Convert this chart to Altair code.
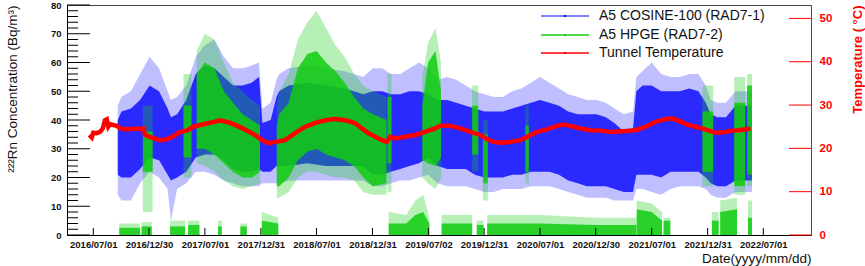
import altair as alt
import pandas as pd

FONT = "Liberation Sans"
BLUE = "#0000ff"
GREEN = "#11cc11"
RED = "#ff0000"

# ---------------- data ----------------
TICK_DATES = ["2016-07-01", "2016-12-30", "2017-07-01", "2017-12-31", "2018-07-01",
              "2018-12-31", "2019-07-02", "2019-12-31", "2020-07-01", "2020-12-30",
              "2021-07-01", "2021-12-31", "2022-07-01"]
X_RANGE = ["2016-04-06", "2022-12-04"]
LEFT_MAJOR = [0, 10, 20, 30, 40, 50, 60, 70, 80]
LEFT_MINOR = [2, 4, 6, 8, 12, 14, 16, 18, 22, 24, 26, 28, 32, 34, 36, 38,
              42, 44, 46, 48, 52, 54, 56, 58, 62, 64, 66, 68, 72, 74, 76, 78]
RIGHT_TICKS = [0, 10, 20, 30, 40, 50]

# A5 COSINE-100 (RAD7-1): envelope of the blue cloud (Bq/m3)
BLUE_DATES = ["2016-09-19", "2016-10-01", "2016-11-01", "2016-12-01", "2017-01-01", "2017-02-01", "2017-03-01", "2017-03-12", "2017-04-01", "2017-05-01",
              "2017-06-01", "2017-07-01", "2017-08-01", "2017-09-01", "2017-10-01", "2017-11-01", "2017-12-01", "2017-12-25", "2018-01-05", "2018-02-01",
              "2018-02-20", "2018-03-01", "2018-04-01", "2018-06-01", "2018-08-01", "2018-10-01", "2018-12-01", "2019-01-01", "2019-02-01", "2019-03-01",
              "2019-04-01", "2019-05-01", "2019-06-01", "2019-07-01", "2019-08-01", "2019-09-01", "2019-10-01", "2019-11-01", "2019-12-01", "2020-01-01",
              "2020-02-01", "2020-03-01", "2020-04-01", "2020-05-01", "2020-06-01", "2020-07-01", "2020-08-01", "2020-09-01", "2020-10-01", "2020-11-01",
              "2020-12-01", "2021-01-01", "2021-02-01", "2021-03-01", "2021-04-01", "2021-05-01", "2021-05-12", "2021-06-01", "2021-07-01", "2021-08-01",
              "2021-09-01", "2021-10-01", "2021-11-01", "2021-12-01", "2021-12-25", "2022-01-10", "2022-02-01", "2022-03-01", "2022-04-01", "2022-05-01",
              "2022-05-25"]
BLUE_LO_OUT = [14, 12, 12, 18, 22, 20, 16, 5, 16, 18,
               22, 22, 21, 19, 18, 17, 17, 17, 18, 18,
               18, 18, 19, 19, 19, 19, 19, 17, 17, 18,
               19, 19, 20, 21, 18, 17, 17, 17, 16, 15,
               15, 16, 16, 16, 17, 17, 17, 16, 15, 14,
               13, 13, 13, 12, 12, 12, 16, 16, 15, 14,
               16, 17, 17, 17, 16, 14, 13, 13, 15, 15,
               15]
BLUE_LO = [21, 20, 20, 23, 27, 26, 21, 19, 20, 22,
           27, 28, 28, 26, 23, 22, 22, 23, 22, 22,
           24, 24, 24, 25, 24, 24, 24, 21, 21, 22,
           23, 24, 25, 27, 24, 23, 23, 23, 21, 20,
           20, 20, 21, 21, 22, 22, 22, 21, 19, 18,
           17, 17, 17, 16, 15, 15, 21, 21, 21, 20,
           22, 22, 22, 22, 20, 18, 17, 17, 19, 19,
           19]
BLUE_HI = [40, 43, 44, 47, 52, 50, 44, 41, 42, 47,
           56, 59, 58, 55, 52, 52, 53, 55, 39, 40,
           48, 50, 52, 53, 52, 51, 49, 50, 50, 49,
           49, 50, 50, 49, 47, 47, 46, 45, 44, 43,
           43, 43, 44, 45, 46, 47, 46, 45, 43, 42,
           42, 42, 41, 39, 36, 37, 50, 52, 52, 50,
           50, 50, 51, 50, 46, 42, 41, 41, 45, 45,
           45]
BLUE_HI_OUT = [45, 48, 50, 56, 62, 58, 50, 47, 48, 52,
               62, 66, 68, 62, 58, 58, 59, 60, 44, 46,
               54, 56, 58, 59, 58, 57, 55, 58, 58, 56,
               56, 58, 60, 58, 54, 55, 54, 52, 50, 49,
               48, 48, 50, 51, 53, 55, 53, 51, 49, 48,
               47, 47, 46, 44, 42, 43, 55, 57, 60, 56,
               55, 55, 56, 56, 52, 47, 46, 46, 50, 50,
               50]

# A5 HPGE (RAD7-2): main green cloud, by measurement period
GREEN_SEG = ["A", "A", "B1", "B1",
             "B2", "B2", "B2", "B2", "B2", "B2", "B2", "B2",
             "C", "C", "C", "C", "C", "C", "C", "C", "C", "C", "C", "C", "C",
             "D", "D", "E", "E", "E", "E", "F", "F", "G", "G", "H", "H",
             "I", "I", "J", "J", "K", "K"]
GREEN_DATES = ["2016-12-10", "2017-01-11", "2017-04-22", "2017-05-18",
               "2017-06-04", "2017-07-01", "2017-08-01", "2017-09-01", "2017-10-01", "2017-11-01", "2017-12-01", "2017-12-28",
               "2018-02-21", "2018-03-01", "2018-04-01", "2018-05-01", "2018-06-01", "2018-07-01", "2018-08-01", "2018-09-01",
               "2018-10-01", "2018-11-01", "2018-12-01", "2019-01-01", "2019-02-15",
               "2019-02-18", "2019-03-03", "2019-06-12", "2019-07-01", "2019-07-25", "2019-08-12",
               "2019-11-22", "2019-12-12", "2019-12-27", "2020-01-12", "2020-05-14", "2020-05-25",
               "2021-12-14", "2022-01-18", "2022-03-28", "2022-05-03", "2022-05-09", "2022-05-25"]
GREEN_LO_OUT = [8, 8, 20, 20,
                25, 24, 22, 19, 17, 16, 17, 18,
                13, 13, 15, 20, 22, 22, 21, 20, 20, 19, 15, 14, 14,
                15, 15, 20, 18, 16, 20, 22, 22, 12, 12, 18, 18,
                17, 17, 14, 14, 17, 17]
GREEN_LO = [22, 22, 27, 27,
            30, 30, 28, 25, 22, 20, 20, 22,
            17, 17, 20, 26, 29, 30, 28, 27, 26, 24, 20, 17, 18,
            25, 25, 26, 25, 24, 27, 28, 28, 18, 18, 22, 22,
            22, 22, 17, 17, 21, 21]
GREEN_HI = [36, 36, 45, 45,
            56, 60, 58, 50, 46, 42, 40, 38,
            38, 42, 46, 58, 63, 64, 60, 57, 53, 48, 44, 42, 40,
            48, 48, 45, 60, 64, 50, 45, 45, 35, 35, 38, 38,
            43, 43, 46, 46, 52, 52]
GREEN_HI_OUT = [45, 45, 56, 56,
                64, 70, 68, 60, 53, 50, 47, 45,
                45, 50, 56, 68, 74, 78, 72, 66, 62, 56, 52, 50, 48,
                56, 56, 55, 67, 72, 60, 52, 52, 40, 40, 45, 45,
                52, 52, 55, 55, 56, 56]

# A5 HPGE (RAD7-2): near-zero readings
GREEN0_SEG = ["N1", "N1", "N2", "N2", "N3", "N3", "N4", "N4", "N5", "N5", "N6", "N6", "N7", "N7",
              "N8", "N8", "N8", "N8", "N8", "N9", "N9", "N10", "N10",
              "N11", "N11", "N11", "N11", "N12", "N12", "N12", "N13", "N13",
              "N14", "N14", "N15", "N15", "N16", "N16"]
GREEN0_DATES = ["2016-09-24", "2016-12-01", "2016-12-06", "2017-01-08", "2017-03-09", "2017-04-27",
                "2017-05-07", "2017-06-13", "2017-08-13", "2017-08-25", "2017-10-25", "2017-11-15",
                "2018-01-03", "2018-02-26",
                "2019-02-22", "2019-04-20", "2019-05-20", "2019-06-15", "2019-07-05",
                "2019-08-14", "2019-11-22", "2019-12-07", "2019-12-29",
                "2020-01-10", "2020-07-01", "2021-01-01", "2021-05-12",
                "2021-05-13", "2021-07-01", "2021-08-04", "2021-08-09", "2021-08-31",
                "2022-01-14", "2022-02-05", "2022-02-10", "2022-04-06", "2022-05-12", "2022-05-25"]
GREEN0_HI = [2.5, 2.5, 3, 3, 3, 3, 3.5, 3.5, 3, 3, 3, 3, 5, 4,
             4, 4, 7, 8, 4, 4, 4, 3.5, 3.5,
             4, 4, 3.5, 3.5, 9, 8, 5, 5, 5,
             5, 5, 8, 9, 6, 6]
GREEN0_HI_OUT = [4, 4, 4.5, 4.5, 5, 5, 5, 5, 5, 5, 4, 4, 8, 6,
                 8, 7, 12, 14, 6, 7, 7, 5, 5,
                 7, 7, 6, 6, 12, 11, 8, 6, 6,
                 8, 8, 12, 13, 12, 12]

# Tunnel temperature (deg C)
TEMP_DATES = ["2016-06-18", "2016-06-26", "2016-07-01", "2016-07-12", "2016-07-23", "2016-08-01", "2016-08-08", "2016-08-14", "2016-08-19", "2016-08-25",
              "2016-09-04", "2016-09-16", "2016-09-26", "2016-10-18", "2016-12-12", "2016-12-17", "2017-01-03", "2017-02-04", "2017-02-26", "2017-03-20",
              "2017-04-11", "2017-05-03", "2017-05-24", "2017-06-15", "2017-07-18", "2017-08-20", "2017-09-11", "2017-10-02", "2017-10-24", "2017-11-15",
              "2017-12-12", "2018-01-03", "2018-01-25", "2018-02-16", "2018-03-20", "2018-04-22", "2018-05-25", "2018-06-27", "2018-07-29", "2018-08-31",
              "2018-10-03", "2018-11-05", "2018-11-26", "2018-12-18", "2019-01-09", "2019-01-31", "2019-02-16", "2019-02-27", "2019-03-15", "2019-04-17",
              "2019-05-20", "2019-06-21", "2019-07-24", "2019-08-10", "2019-09-11", "2019-10-14", "2019-11-16", "2019-12-18", "2020-01-10", "2020-01-31",
              "2020-02-22", "2020-03-26", "2020-04-28", "2020-05-20", "2020-06-21", "2020-07-24", "2020-08-26", "2020-09-16", "2020-10-08", "2020-11-10",
              "2020-12-13", "2021-01-15", "2021-02-16", "2021-04-06", "2021-05-09", "2021-06-11", "2021-07-13", "2021-08-15", "2021-09-06", "2021-09-28",
              "2021-10-20", "2021-11-21", "2021-12-13", "2022-01-04", "2022-01-26", "2022-02-27", "2022-03-22", "2022-04-12", "2022-05-04", "2022-05-20"]
TEMP_C = [23.1, 22.5, 23.6, 23.5, 23.8, 24.6, 26.5, 26.7, 25.0, 25.6,
          25.4, 25.2, 24.6, 24.4, 24.6, 23.1, 22.6, 21.9, 22.1, 22.8,
          23.8, 24.1, 25.0, 25.4, 25.9, 26.5, 26.1, 25.6, 24.9, 24.1,
          23.1, 21.9, 21.2, 21.5, 21.9, 23.5, 25.0, 25.9, 26.5, 26.8,
          26.5, 25.8, 24.6, 23.5, 22.7, 21.9, 21.5, 22.7, 22.3, 22.7,
          23.1, 23.8, 24.6, 25.2, 25.2, 24.6, 23.8, 23.1, 22.1, 21.5,
          21.3, 21.5, 21.9, 22.7, 23.8, 24.4, 25.2, 25.5, 25.2, 24.6,
          24.2, 24.1, 23.8, 24.0, 24.2, 25.0, 26.1, 26.8, 26.9, 26.4,
          25.6, 25.0, 24.6, 24.1, 23.6, 23.8, 24.1, 24.2, 24.4, 24.6]

LEGEND_LABELS = ["A5 COSINE-100 (RAD7-1)", "A5 HPGE (RAD7-2)", "Tunnel Temperature"]
LEGEND_COLORS = [BLUE, GREEN, RED]
LEGEND_WIDTHS = [1, 1.5, 2]

# ---------------- tables ----------------
blue_df = pd.DataFrame({"date": BLUE_DATES, "seg": "blue", "lo_out": BLUE_LO_OUT, "lo": BLUE_LO,
                        "hi": BLUE_HI, "hi_out": BLUE_HI_OUT})
green_df = pd.DataFrame({"date": GREEN_DATES, "seg": GREEN_SEG, "lo_out": GREEN_LO_OUT, "lo": GREEN_LO,
                         "hi": GREEN_HI, "hi_out": GREEN_HI_OUT})
green0_df = pd.DataFrame({"date": GREEN0_DATES, "seg": GREEN0_SEG, "hi": GREEN0_HI, "hi_out": GREEN0_HI_OUT})
green0_df["base"] = 0
temp_df = pd.DataFrame({"date": TEMP_DATES, "temp": TEMP_C})


def ms(d):
    return int(pd.Timestamp(d, tz="UTC").value // 10**6)


W, H = 744, 230

xscale = alt.Scale(type="utc", domain=[ms(X_RANGE[0]), ms(X_RANGE[1])], nice=False)
xaxis = alt.Axis(values=[ms(d) for d in TICK_DATES],
                 labelExpr="utcFormat(datum.value, '%Y/%m/%d')",
                 ticks=False, tickSize=0, grid=False, domainColor="black", domainWidth=1,
                 labelFont=FONT, labelFontWeight="bold", labelFontSize=9.5, labelColor="#111111",
                 labelPadding=4, labelOverlap=False, labelFlush=False,
                 title="Date(yyyy/mm/dd)", titleFont=FONT, titleFontSize=13.5, titleFontWeight="normal",
                 titleColor="#111111", titleAlign="right", titleX=W, titleY=27, titleBaseline="alphabetic")
X = alt.X("date:T", scale=xscale, axis=xaxis)

yL = alt.Scale(domain=[0, 80], nice=False, zero=False)
yR = alt.Scale(domain=[0, 53.1], nice=False, zero=False)

yaxis_L = alt.Axis(values=LEFT_MAJOR, ticks=False, tickSize=0, grid=False, domainColor="black",
                   labelFont=FONT, labelFontWeight="bold", labelFontSize=9.5, labelColor="#111111",
                   labelPadding=6,
                   title="²²²Rn Concentration (Bq/m³)", titleFont=FONT, titleFontSize=13.5,
                   titleFontWeight="normal", titleColor="#111111", titleAngle=270, titleAlign="right",
                   titleBaseline="middle", titleX=-55, titleY=0)
yaxis_R = alt.Axis(orient="right", values=RIGHT_TICKS, ticks=False, tickSize=0, grid=False,
                   domainColor=RED, labelColor=RED, labelFont=FONT, labelFontWeight="bold",
                   labelFontSize=11.5, labelPadding=8,
                   title="Temperature ( °C)", titleFont=FONT, titleColor=RED, titleFontWeight="bold",
                   titleFontSize=13, titleAngle=270, titleAlign="right", titleBaseline="middle",
                   titleX=46, titleY=0)


def band(df, lo, hi, color, opacity, axis=None):
    return alt.Chart(df).mark_area(color=color, opacity=opacity, strokeWidth=0).encode(
        x=X,
        y=alt.Y(f"{lo}:Q", scale=yL, axis=axis, stack=None),
        y2=f"{hi}:Q",
        detail="seg:N",
    )


layers = [
    band(blue_df, "lo_out", "hi_out", BLUE, 0.25, yaxis_L),
    band(blue_df, "lo", "hi", BLUE, 0.78),
    band(green_df, "lo_out", "hi_out", GREEN, 0.3),
    band(green_df, "lo", "hi", GREEN, 0.85),
    band(green0_df, "base", "hi_out", GREEN, 0.3),
    band(green0_df, "base", "hi", GREEN, 0.85),
]

temp_line = alt.Chart(temp_df).mark_line(color=RED, strokeWidth=4.5).encode(
    x=X, y=alt.Y("temp:Q", scale=yR, axis=yaxis_R))
layers.append(temp_line)

# inward ticks (ROOT style)
layers.append(alt.Chart(pd.DataFrame({"v": LEFT_MAJOR})).mark_rule(color="black", strokeWidth=1).encode(
    y=alt.Y("v:Q", scale=yL, axis=None), x=alt.value(0), x2=alt.value(23)))
layers.append(alt.Chart(pd.DataFrame({"v": LEFT_MINOR})).mark_rule(color="black", strokeWidth=1).encode(
    y=alt.Y("v:Q", scale=yL, axis=None), x=alt.value(0), x2=alt.value(11)))
layers.append(alt.Chart(pd.DataFrame({"v": RIGHT_TICKS})).mark_rule(color=RED, strokeWidth=1).encode(
    y=alt.Y("v:Q", scale=yR, axis=None), x=alt.value(W), x2=alt.value(W - 22)))
layers.append(alt.Chart(pd.DataFrame({"date": TICK_DATES})).mark_rule(color="black", strokeWidth=1).encode(
    x=X, y=alt.value(H), y2=alt.value(H - 7)))

# legend: thin sample bar with a small marker + label per row
LEG_Y = [11, 30, 48]
for lbl, col, lw, ly in zip(LEGEND_LABELS, LEGEND_COLORS, LEGEND_WIDTHS, LEG_Y):
    d = pd.DataFrame({"label": [lbl]})
    layers.append(alt.Chart(d).mark_rect(color=col, opacity=0.75 if col == RED else 1).encode(
        x=alt.value(474), x2=alt.value(522), y=alt.value(ly - lw / 2), y2=alt.value(ly + lw / 2)))
    layers.append(alt.Chart(d).mark_rect(color=col).encode(
        x=alt.value(497), x2=alt.value(499), y=alt.value(ly - 1), y2=alt.value(ly + 1)))
    layers.append(alt.Chart(d).mark_text(align="left", baseline="middle", font=FONT, fontSize=14,
                                         color="#111111").encode(
        x=alt.value(532), y=alt.value(ly), text="label:N"))

chart = alt.layer(*layers).resolve_scale(y="independent").properties(
    width=W, height=H,
    autosize=alt.AutoSizeParams(type="none"),
    padding={"left": 67, "top": 5, "right": 54, "bottom": 31},
    background="white",
).configure_view(stroke="#444444", strokeWidth=1)

chart.save("out.html", embed_options={"renderer": "svg", "actions": False})
